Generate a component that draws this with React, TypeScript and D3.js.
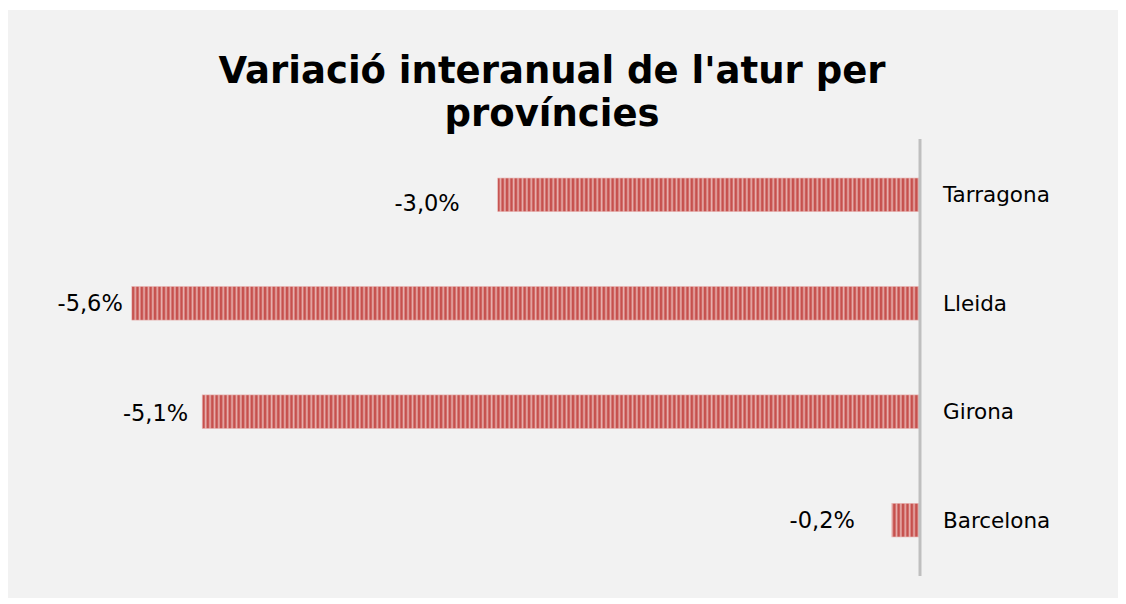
import React from "react";
import * as d3 from "d3";

const categories = ["Tarragona", "Lleida", "Girona", "Barcelona"];
const values = [-3.0, -5.6, -5.1, -0.2];
const valueLabels = ["-3,0%", "-5,6%", "-5,1%", "-0,2%"];
const titleLines = ["Variació interanual de l'atur per", "províncies"];

// label placement tweaks (style config, not data)
const labelDx = [-38, -9, -14, -37];
const labelDy = [8, 0, 1, 0];

const W = 1110;
const H = 590;
const FONT = "'DejaVu Sans', Verdana, sans-serif";

export default function App() {
  const x = d3.scaleLinear().domain([-6, 0]).range([67.5, 912]);
  const y = d3
    .scaleBand<string>()
    .domain(categories)
    .range([131, 568])
    .paddingInner(0.69)
    .paddingOuter(0.36);

  return (
    <svg width={W} height={H} style={{ display: "block" }}>
      <defs>
        <pattern id="stripes" width={4.4} height={10} patternUnits="userSpaceOnUse">
          <rect width={4.4} height={10} fill="#e8b3b1" />
          <rect x={0.5} width={2.7} height={10} fill="#c6504d" />
        </pattern>
      </defs>
      <rect x={0} y={2} width={W} height={H - 2} fill="#f2f2f2" />
      <text
        x={544}
        y={75}
        textAnchor="middle"
        fontFamily={FONT}
        fontWeight="bold"
        fontSize={37}
        fill="#000"
      >
        {titleLines.map((l, i) => (
          <tspan key={i} x={544} dy={i === 0 ? 0 : 43}>
            {l}
          </tspan>
        ))}
      </text>
      {categories.map((c, i) => {
        const v = values[i];
        const x0 = x(Math.min(v, 0));
        const x1 = x(Math.max(v, 0));
        const by = y(c)!;
        const bh = y.bandwidth();
        return (
          <g key={c}>
            <rect x={x0} y={by} width={x1 - x0} height={bh} fill="url(#stripes)" stroke="#e8b5b3" strokeWidth={0.6} />
            <text
              x={x0 + labelDx[i]}
              y={by + bh / 2 + labelDy[i]}
              textAnchor="end"
              dominantBaseline="central"
              fontFamily={FONT}
              fontSize={22.5}
              fill="#000"
            >
              {valueLabels[i]}
            </text>
            <text
              x={x(0) + 23}
              y={by + bh / 2}
              dominantBaseline="central"
              fontFamily={FONT}
              fontSize={21.5}
              fill="#000"
            >
              {c}
            </text>
          </g>
        );
      })}
      <line x1={x(0)} x2={x(0)} y1={131} y2={568} stroke="#bfbfbf" strokeWidth={3} />
    </svg>
  );
}
